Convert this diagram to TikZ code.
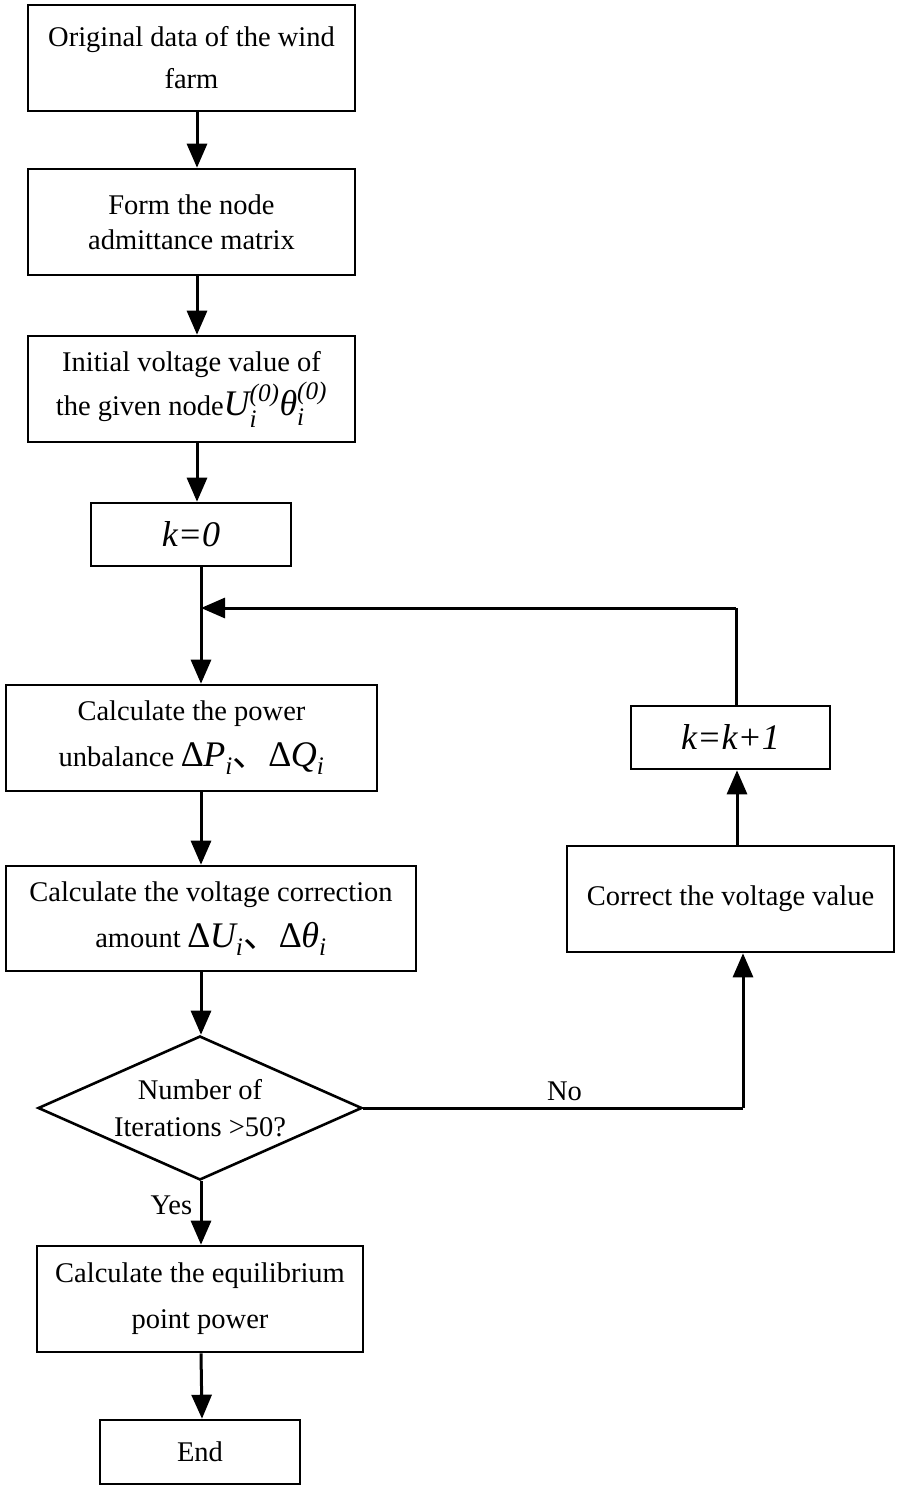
\documentclass[tikz,border=0pt]{standalone}
\usepackage{fontspec}
\usepackage{amsmath}
\setmainfont{Liberation Serif}
\newfontfamily\cjk{Noto Sans CJK SC}
\usetikzlibrary{shapes.geometric,arrows.meta}
\newcommand{\mi}[1]{\text{\itshape #1}}
\newcommand{\mth}[1]{{\fontsize{36}{40}\selectfont$#1$}}
\newcommand{\dunh}{\text{\cjk 、}}
\begin{document}
\begin{tikzpicture}[x=1pt,y=-1pt,
  every node/.style={font=\fontsize{28.5}{44}\selectfont},
  box/.style={draw,line width=2.6pt,inner sep=0pt,align=center,rectangle},
  arr/.style={line width=3pt,-{Triangle[length=24pt,width=20pt]}},
  ln/.style={line width=3pt}]
\useasboundingbox (0,0) rectangle (900,1491);
\node[box,minimum width=327pt,minimum height=106pt] (b1) at (191.5,58) {Original data of the wind\\[-2pt]farm};
\node[box,minimum width=327pt,minimum height=106pt,font=\fontsize{28.5}{35}\selectfont] (b2) at (191.5,222) {Form the node\\admittance matrix};
\node[box,minimum width=327pt,minimum height=106pt] (b3) at (191.5,389) {Initial voltage value of\\the given node\mth{\mi{U}_{\mi{i}}^{\mi{(0)}}\mi{θ}_{\mi{i}}^{\mi{(0)}}}};
\node[box,minimum width=200pt,minimum height=63pt] (b4) at (191,534.5) {\mth{\mi{k=0}}};
\node[box,minimum width=371pt,minimum height=106pt] (b5) at (191.5,738) {Calculate the power\\[2pt]unbalance \mth{\mi{∆P}_{\mi{i}}\dunh\mi{∆Q}_{\mi{i}}}};
\node[box,minimum width=410pt,minimum height=105pt] (b6) at (211,918.5) {Calculate the voltage correction\\[2pt]amount \mth{\text{∆}\mi{U}_{\mi{i}}\dunh\mi{∆θ}_{\mi{i}}}};
\node[draw,line width=2.6pt,shape=diamond,inner sep=0pt,aspect=2.25,minimum width=324pt,minimum height=144pt] (d) at (200,1108) {};
\node[align=center,inner sep=0pt,font=\fontsize{28.5}{37}\selectfont] (dt) at (200,1108) {Number of\\Iterations >50?};
\node[box,minimum width=326pt,minimum height=106pt] (b7) at (200,1299) {Calculate the equilibrium\\[2pt]point power};
\node[box,minimum width=200pt,minimum height=64pt] (b8) at (200,1452) {End};
\node[box,minimum width=327pt,minimum height=106pt] (c) at (730.5,899) {Correct the voltage value};
\node[box,minimum width=199pt,minimum height=63pt] (k1) at (730.5,737.5) {\mth{\mi{k=k+1}}};
\coordinate (j) at (201,608);
\coordinate (t) at (736,608);
\coordinate (r) at (743,1108);
\draw[arr] ([xshift=5.5pt]b1.south) -- ([xshift=5.5pt]b2.north);
\draw[arr] ([xshift=5.5pt]b2.south) -- ([xshift=5.5pt]b3.north);
\draw[arr] ([xshift=5.5pt]b3.south) -- ([xshift=6pt]b4.north);
\draw[arr] ([xshift=10pt]b4.south) -- ([xshift=9.5pt]b5.north);
\draw[arr] ([xshift=9.5pt]b5.south) -- ([xshift=-10pt]b6.north);
\draw[arr] ([xshift=-10pt]b6.south) -- ([xshift=1pt]d.north);
\draw[arr] ([xshift=1pt]d.south) -- node[left=4pt,pos=0.38] (yes) {Yes} ([xshift=1pt]b7.north);
\draw[arr] ([xshift=1pt]b7.south) -- ([xshift=2pt]b8.north);
\draw[ln] (d.east) -- node[above=2pt,pos=0.53] (no) {No} (r);
\draw[arr] (r) -- ([xshift=12.5pt]c.south);
\draw[arr] ([xshift=6.5pt]c.north) -- ([xshift=6.5pt]k1.south);
\draw[ln] ([xshift=5.5pt]k1.north) -- (t);
\draw[arr] (t) -- (j);
\end{tikzpicture}
\end{document}
